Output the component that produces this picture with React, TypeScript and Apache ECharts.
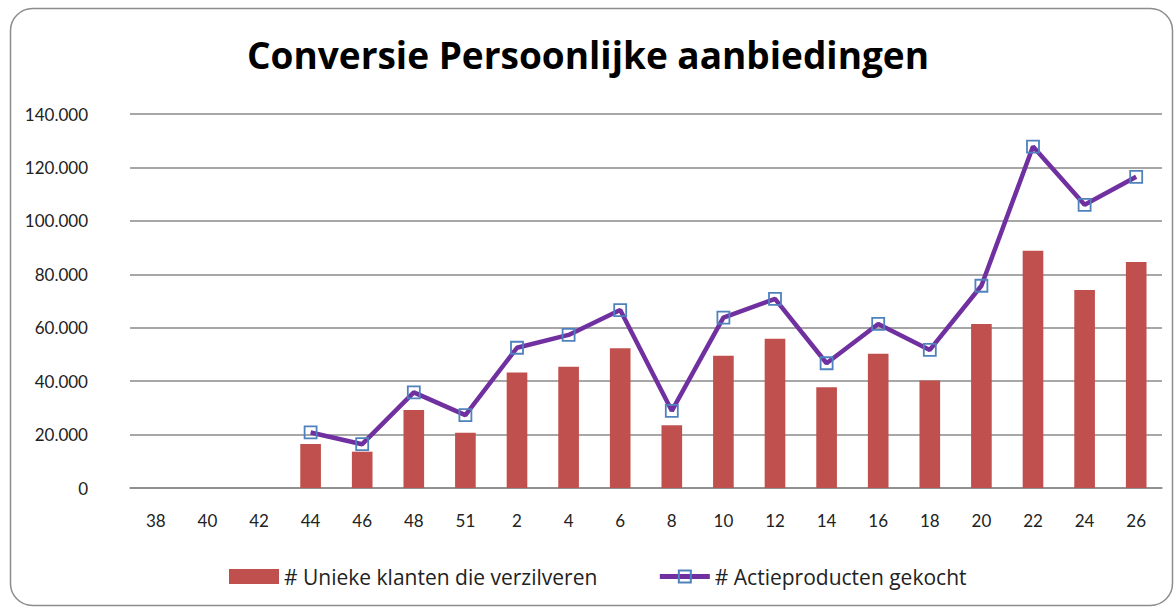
import React, { useEffect, useRef } from "react";
import * as echarts from "echarts";

const categories = ["38", "40", "42", "44", "46", "48", "51", "2", "4", "6", "8", "10", "12", "14", "16", "18", "20", "22", "24", "26"];
const uniekeKlanten = [null, null, null, 16500, 13600, 29200, 20700, 43200, 45400, 52300, 23500, 49500, 55900, 37700, 50300, 40200, 61400, 88800, 74100, 84600];
const actieproducten = [null, null, null, 20800, 16400, 35800, 27300, 52500, 57300, 66600, 28900, 63800, 70800, 46700, 61400, 51700, 75700, 127800, 106000, 116500];
const yTicks = { min: 0, max: 140000, interval: 20000 };
const titleText = "Conversie Persoonlijke aanbiedingen";
const seriesNames = ["# Unieke klanten die verzilveren", "# Actieproducten gekocht"];

export default function App() {
  const ref = useRef<HTMLDivElement>(null);
  useEffect(() => {
    if (!ref.current) return;
    const chart = echarts.init(ref.current, null, { renderer: "svg" });
    const font = "Lato, 'Open Sans', sans-serif";
    const wide = "'Open Sans', Lato, sans-serif";
    chart.setOption({
      animation: false,
      backgroundColor: "#ffffff",
      graphic: [
        {
          type: "rect",
          shape: { x: 10.5, y: 8.5, width: 1162, height: 597, r: 22 },
          style: { fill: "none", stroke: "#8c8c8c", lineWidth: 1.5 },
          z: -1,
        },
      ],
      title: {
        text: titleText,
        left: "center",
        top: 31,
        textStyle: { fontFamily: wide, fontSize: 37, fontWeight: "bold", color: "#000" },
      },
      grid: { left: 130, right: 14, top: 114, bottom: 122, containLabel: false },
      legend: {
        left: 224,
        top: 561,
        itemGap: 60,
        itemWidth: 50,
        itemHeight: 15,
        textStyle: { fontFamily: wide, fontSize: 21, color: "#222" },
        data: [
          { name: seriesNames[0], icon: "rect" },
          { name: seriesNames[1], lineStyle: { width: 5, color: "#7030A0" } },
        ],
      },
      xAxis: {
        type: "category",
        data: categories,
        axisLine: { show: true, lineStyle: { color: "#8a8a8a", width: 1.5 } },
        axisTick: { show: false },
        axisLabel: { fontFamily: font, fontSize: 17, color: "#222", margin: 24 },
      },
      yAxis: {
        type: "value",
        min: yTicks.min,
        max: yTicks.max,
        interval: yTicks.interval,
        axisLine: { show: false },
        axisTick: { show: false },
        splitLine: { lineStyle: { color: "#8a8a8a", width: 1.5 } },
        axisLabel: {
          fontFamily: font,
          fontSize: 17,
          color: "#222",
          margin: 42,
          formatter: (v: number) => (v === 0 ? "0" : v.toLocaleString("de-DE")),
        },
      },
      series: [
        {
          name: seriesNames[0],
          type: "bar",
          data: uniekeKlanten,
          barWidth: "40%",
          itemStyle: { color: "#C0504D" },
        },
        {
          name: seriesNames[1],
          type: "line",
          data: actieproducten,
          symbol: "rect",
          symbolSize: 12,
          showAllSymbol: true,
          lineStyle: { color: "#7030A0", width: 4.5 },
          itemStyle: { color: "rgba(255,255,255,0)", borderColor: "#4F81BD", borderWidth: 1.8 },
          z: 3,
        },
      ],
    });
    return () => chart.dispose();
  }, []);
  return (
    <div
      ref={ref}
      style={{ position: "fixed", left: 0, top: 0, width: 1176, height: 610 }}
    />
  );
}
